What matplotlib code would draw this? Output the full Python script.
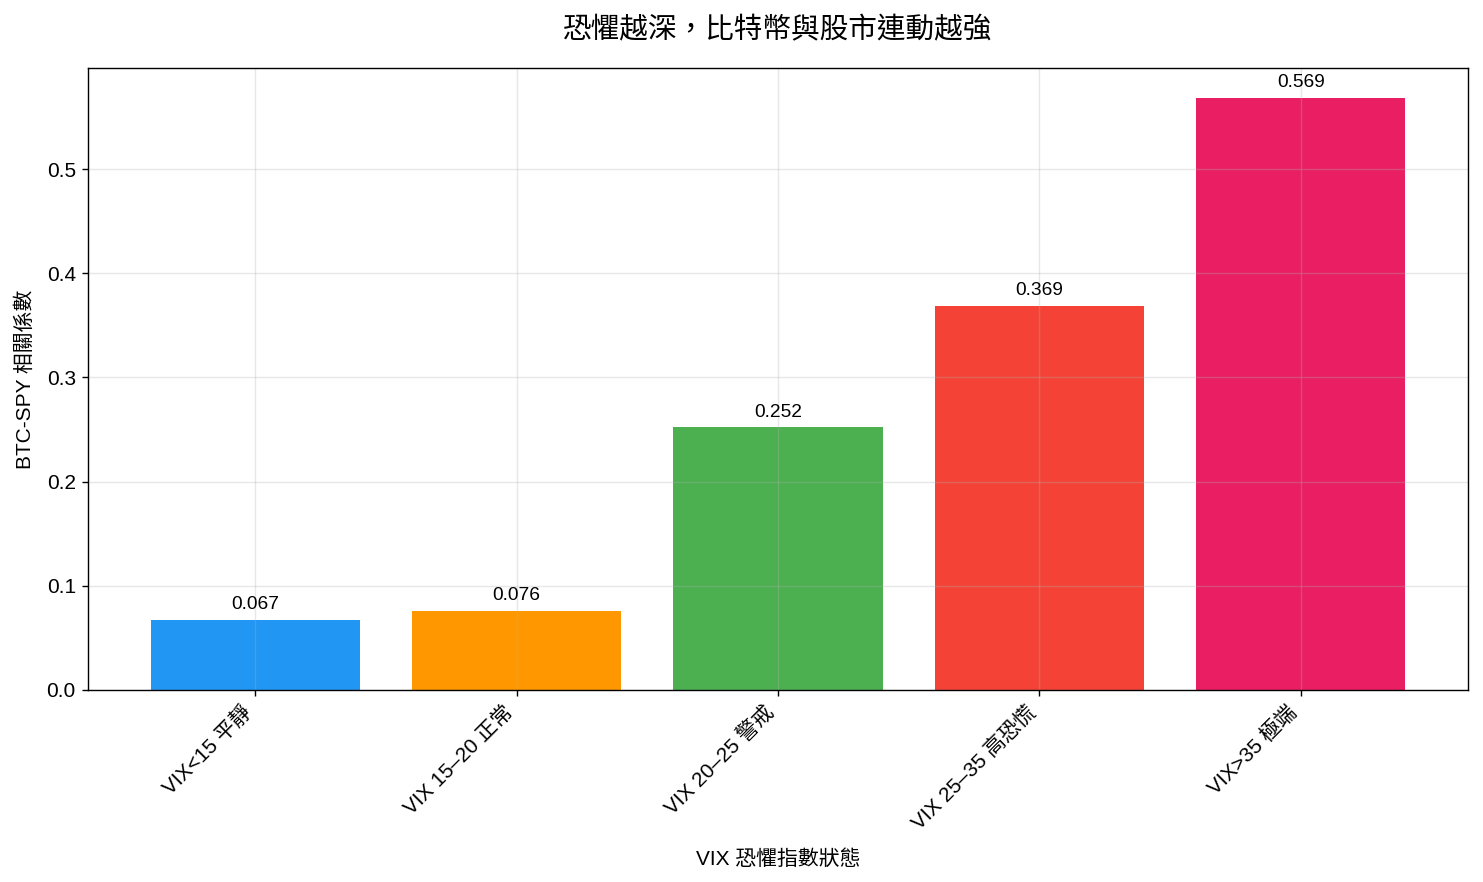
import matplotlib
matplotlib.use("Agg")
from matplotlib import pyplot as plt
import numpy as np

plt.rcParams['font.family'] = ['Liberation Sans', 'Noto Sans CJK TC', 'DejaVu Sans']

# data
categories = ['VIX<15 平靜', 'VIX 15–20 正常', 'VIX 20–25 警戒', 'VIX 25–35 高恐慌', 'VIX>35 極端']
corr = [0.067, 0.076, 0.252, 0.369, 0.569]
colors = ['#2196F3', '#FF9800', '#4CAF50', '#F44336', '#E91E63']

dpi = 125
fig, ax = plt.subplots(figsize=(1483 / dpi, 882 / dpi), dpi=dpi)
x = np.arange(len(categories))
bars = ax.bar(x, corr, color=colors, width=0.8)

for b, v in zip(bars, corr):
    ax.annotate(f'{v:.3f}', (b.get_x() + b.get_width() / 2, v),
                xytext=(0, 4), textcoords='offset points',
                ha='center', va='bottom', fontsize=11)

ax.set_xticks(x)
ax.set_xticklabels(categories, rotation=45, ha='right', fontsize=12)
ax.tick_params(axis='y', labelsize=12)
ax.set_xlabel('VIX 恐懼指數狀態', fontsize=12, labelpad=9)
ax.set_ylabel('BTC-SPY 相關係數', fontsize=12, labelpad=7)
ax.set_title('恐懼越深，比特幣與股市連動越強', fontsize=16.5, pad=17)
ax.grid(True, alpha=0.3)

plt.subplots_adjust(left=0.0593, right=0.9899, top=0.923, bottom=0.218)
plt.savefig('out.png', dpi=dpi)
